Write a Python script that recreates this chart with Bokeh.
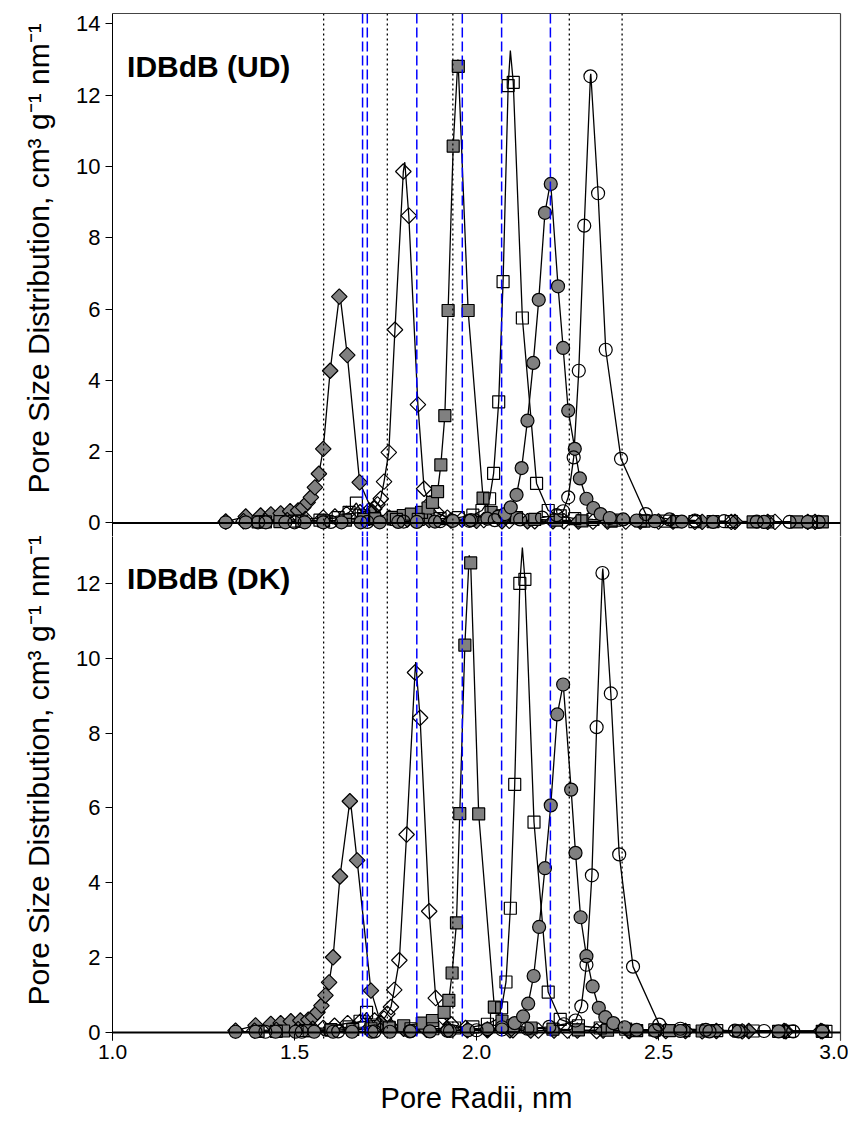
import math
from bokeh.plotting import figure
from bokeh.layouts import column
from bokeh.models import Range1d, LinearAxis, FixedTicker, Span, Label, Title, PrintfTickFormatter
from bokeh.embed import file_html
from bokeh.resources import INLINE

FONT = "Liberation Sans"

# ---------------- data ----------------
x_ticks = [1.0, 1.5, 2.0, 2.5, 3.0]
y_ticks_top = [0, 2, 4, 6, 8, 10, 12, 14]
y_ticks_bottom = [0, 2, 4, 6, 8, 10, 12]

dotted_x = [1.58, 1.755, 1.935, 2.255, 2.40]
dashed_x = [1.687, 1.700, 1.836, 1.961, 2.069, 2.203]

# ---- IDBdB (UD), top panel ----
ud_fdia_x = [1.311, 1.366, 1.407, 1.435, 1.462, 1.488, 1.510, 1.524, 1.536, 1.545, 1.556, 1.567, 1.579, 1.598, 1.623, 1.645, 1.679, 1.715, 1.760, 1.810, 1.870, 1.930, 2.000, 2.070, 2.140, 2.210, 2.280, 2.360, 2.450, 2.540, 2.620, 2.710, 2.800, 2.910]
ud_fdia_y = [0.04, 0.18, 0.21, 0.24, 0.27, 0.33, 0.35, 0.44, 0.58, 0.72, 1.00, 1.38, 2.08, 4.27, 6.35, 4.71, 1.14, 0.30, 0.15, 0.10, 0.08, 0.07, 0.06, 0.05, 0.05, 0.05, 0.04, 0.04, 0.04, 0.04, 0.03, 0.03, 0.03, 0.03]

ud_odia_x = [1.360, 1.420, 1.480, 1.530, 1.579, 1.611, 1.643, 1.680, 1.705, 1.719, 1.728, 1.737, 1.746, 1.759, 1.776, 1.799, 1.814, 1.839, 1.856, 1.872, 1.890, 1.920, 1.960, 2.020, 2.090, 2.160, 2.240, 2.320, 2.410, 2.500, 2.600, 2.700, 2.820, 2.930]
ud_odia_y = [0.05, 0.06, 0.08, 0.11, 0.15, 0.18, 0.25, 0.30, 0.35, 0.40, 0.52, 0.68, 1.16, 1.98, 5.42, 9.86, 8.62, 3.32, 0.96, 0.55, 0.30, 0.15, 0.10, 0.08, 0.06, 0.05, 0.05, 0.04, 0.04, 0.04, 0.03, 0.03, 0.03, 0.03]

ud_fsq_x = [1.400, 1.460, 1.520, 1.580, 1.640, 1.690, 1.720, 1.771, 1.799, 1.821, 1.849, 1.867, 1.879, 1.893, 1.902, 1.913, 1.922, 1.936, 1.950, 1.977, 2.018, 2.040, 2.070, 2.110, 2.160, 2.220, 2.290, 2.370, 2.460, 2.550, 2.650, 2.760, 2.880, 2.950]
ud_fsq_y = [0.03, 0.04, 0.05, 0.06, 0.08, 0.10, 0.12, 0.16, 0.21, 0.25, 0.30, 0.42, 0.58, 0.88, 1.63, 3.01, 5.96, 10.57, 12.81, 5.96, 0.70, 0.30, 0.20, 0.15, 0.10, 0.08, 0.06, 0.05, 0.05, 0.04, 0.04, 0.03, 0.03, 0.03]

ud_osq_x = [1.420, 1.500, 1.570, 1.620, 1.650, 1.670, 1.690, 1.720, 1.780, 1.840, 1.900, 1.950, 1.990, 2.015, 2.036, 2.047, 2.061, 2.073, 2.087, 2.101, 2.126, 2.165, 2.197, 2.230, 2.270, 2.320, 2.380, 2.450, 2.520, 2.600, 2.700, 2.800, 2.920]
ud_osq_y = [0.03, 0.05, 0.08, 0.15, 0.30, 0.56, 0.20, 0.12, 0.10, 0.10, 0.12, 0.15, 0.22, 0.35, 0.68, 1.39, 3.40, 6.77, 12.27, 12.36, 5.75, 1.11, 0.35, 0.20, 0.12, 0.10, 0.08, 0.06, 0.05, 0.04, 0.04, 0.03, 0.03]

ud_fcir_x = [1.311, 1.366, 1.421, 1.475, 1.528, 1.579, 1.629, 1.682, 1.734, 1.785, 1.836, 1.886, 1.935, 1.985, 2.030, 2.060, 2.078, 2.094, 2.110, 2.124, 2.140, 2.156, 2.171, 2.188, 2.204, 2.224, 2.238, 2.252, 2.270, 2.284, 2.302, 2.321, 2.341, 2.366, 2.403, 2.440, 2.490, 2.564, 2.650, 2.790, 2.910]
ud_fcir_y = [0.02, 0.02, 0.02, 0.02, 0.02, 0.02, 0.02, 0.02, 0.02, 0.03, 0.03, 0.04, 0.06, 0.08, 0.12, 0.18, 0.25, 0.44, 0.79, 1.54, 2.87, 4.49, 6.26, 8.70, 9.51, 6.64, 4.91, 3.15, 2.08, 1.25, 0.68, 0.42, 0.25, 0.14, 0.10, 0.07, 0.05, 0.04, 0.03, 0.03, 0.03]

ud_ocir_x = [1.400, 1.500, 1.600, 1.700, 1.800, 1.900, 1.980, 2.050, 2.120, 2.180, 2.220, 2.238, 2.252, 2.267, 2.281, 2.296, 2.313, 2.334, 2.355, 2.397, 2.465, 2.530, 2.600, 2.680, 2.770, 2.860, 2.940]
ud_ocir_y = [0.02, 0.02, 0.03, 0.03, 0.04, 0.05, 0.06, 0.08, 0.10, 0.15, 0.22, 0.33, 0.72, 1.84, 4.27, 8.34, 12.53, 9.25, 4.86, 1.80, 0.25, 0.10, 0.07, 0.05, 0.04, 0.03, 0.03]

# apex of each fitted curve (UD): fdia, odia, fsq, osq, fcir, ocir
ud_apex_x = [1.625, 1.803, 1.949, 2.093, 2.203, 2.314]
ud_apex_y = [6.40, 10.12, 13.00, 13.25, 9.55, 12.60]

# ---- IDBdB (DK), bottom panel ----
dk_fdia_x = [1.338, 1.393, 1.435, 1.462, 1.490, 1.516, 1.538, 1.551, 1.563, 1.574, 1.585, 1.595, 1.606, 1.625, 1.652, 1.672, 1.710, 1.737, 1.766, 1.800, 1.863, 1.920, 1.975, 2.030, 2.092, 2.149, 2.213, 2.277, 2.348, 2.417, 2.495, 2.574, 2.659, 2.748, 2.845, 2.946]
dk_fdia_y = [0.05, 0.19, 0.23, 0.25, 0.30, 0.32, 0.34, 0.41, 0.54, 0.72, 0.99, 1.34, 2.01, 4.17, 6.18, 4.60, 1.12, 0.25, 0.14, 0.10, 0.07, 0.07, 0.06, 0.06, 0.06, 0.05, 0.05, 0.05, 0.05, 0.05, 0.04, 0.04, 0.04, 0.04, 0.04, 0.04]

dk_odia_x = [1.390, 1.450, 1.510, 1.550, 1.579, 1.610, 1.646, 1.680, 1.720, 1.746, 1.755, 1.765, 1.774, 1.788, 1.808, 1.831, 1.845, 1.870, 1.888, 1.908, 1.930, 1.970, 2.030, 2.100, 2.170, 2.250, 2.330, 2.420, 2.520, 2.620, 2.730, 2.850, 2.950]
dk_odia_y = [0.05, 0.07, 0.09, 0.10, 0.12, 0.18, 0.25, 0.28, 0.32, 0.37, 0.50, 0.68, 1.14, 1.93, 5.29, 9.62, 8.41, 3.24, 0.92, 0.41, 0.22, 0.12, 0.08, 0.06, 0.05, 0.05, 0.04, 0.04, 0.04, 0.03, 0.03, 0.03, 0.03]

dk_fsq_x = [1.400, 1.470, 1.540, 1.600, 1.660, 1.710, 1.760, 1.800, 1.851, 1.879, 1.911, 1.924, 1.933, 1.945, 1.954, 1.968, 1.984, 2.006, 2.049, 2.070, 2.100, 2.150, 2.210, 2.280, 2.360, 2.440, 2.530, 2.620, 2.720, 2.830, 2.950]
dk_fsq_y = [0.03, 0.04, 0.05, 0.06, 0.08, 0.10, 0.14, 0.18, 0.25, 0.32, 0.54, 0.86, 1.59, 2.93, 5.85, 10.35, 12.55, 5.84, 0.68, 0.30, 0.18, 0.12, 0.09, 0.07, 0.06, 0.05, 0.05, 0.04, 0.04, 0.03, 0.03]

dk_osq_x = [1.450, 1.530, 1.600, 1.650, 1.680, 1.698, 1.720, 1.760, 1.820, 1.880, 1.940, 1.990, 2.030, 2.055, 2.069, 2.081, 2.093, 2.105, 2.119, 2.133, 2.158, 2.197, 2.230, 2.280, 2.340, 2.410, 2.490, 2.570, 2.660, 2.760, 2.860, 2.960]
dk_osq_y = [0.03, 0.05, 0.08, 0.15, 0.30, 0.54, 0.20, 0.12, 0.10, 0.10, 0.12, 0.15, 0.22, 0.35, 0.66, 1.35, 3.32, 6.63, 12.00, 12.11, 5.62, 1.08, 0.35, 0.18, 0.12, 0.09, 0.07, 0.05, 0.05, 0.04, 0.03, 0.03]

dk_fcir_x = [1.338, 1.393, 1.448, 1.503, 1.554, 1.606, 1.658, 1.712, 1.762, 1.817, 1.872, 1.927, 1.977, 2.030, 2.070, 2.105, 2.128, 2.142, 2.157, 2.172, 2.188, 2.204, 2.222, 2.238, 2.260, 2.272, 2.286, 2.302, 2.319, 2.336, 2.354, 2.376, 2.407, 2.440, 2.490, 2.560, 2.640, 2.720, 2.830, 2.950]
dk_fcir_y = [0.02, 0.02, 0.02, 0.02, 0.02, 0.02, 0.02, 0.02, 0.02, 0.03, 0.03, 0.04, 0.06, 0.09, 0.14, 0.25, 0.43, 0.77, 1.51, 2.82, 4.39, 6.07, 8.50, 9.30, 6.49, 4.80, 3.08, 2.04, 1.23, 0.66, 0.41, 0.25, 0.14, 0.07, 0.05, 0.04, 0.03, 0.03, 0.03, 0.03]

dk_ocir_x = [1.420, 1.520, 1.620, 1.720, 1.820, 1.920, 2.000, 2.070, 2.140, 2.200, 2.240, 2.272, 2.288, 2.302, 2.317, 2.330, 2.346, 2.369, 2.392, 2.430, 2.502, 2.560, 2.630, 2.710, 2.790, 2.870, 2.950]
dk_ocir_y = [0.02, 0.02, 0.03, 0.03, 0.04, 0.05, 0.06, 0.08, 0.10, 0.15, 0.22, 0.32, 0.70, 1.81, 4.20, 8.16, 12.28, 9.06, 4.76, 1.76, 0.21, 0.10, 0.07, 0.05, 0.04, 0.03, 0.03]

dk_apex_x = [1.653, 1.833, 1.980, 2.126, 2.238, 2.347]
dk_apex_y = [6.25, 9.90, 12.75, 12.96, 9.35, 12.40]

# ---------------- styling helpers ----------------
GRAY = "#808080"
styles = [("square", math.pi / 4, 11, GRAY),
          ("square", math.pi / 4, 11, None),
          ("square", 0, 12, GRAY),
          ("square", 0, 12, None),
          ("circle", 0, 13, GRAY),
          ("circle", 0, 13, None)]
YTITLE = "Pore Size Distribution, cm\u00b3 g\u207b\u00b9 nm\u207b\u00b9"


def curve(xs, ys, ax, ay):
    pts = sorted(list(zip(xs, ys)) + [(ax, ay)])
    return [q[0] for q in pts], [q[1] for q in pts]


def make_panel(yr, frame_h, top_border, yticks, series, apx, apy, label, label_y,
               title_offset, with_x_axis):
    p = figure(frame_width=728, frame_height=frame_h, title=None,
               x_range=Range1d(1.0, 3.0), y_range=Range1d(*yr),
               x_axis_location="below" if with_x_axis else None,
               output_backend="svg", toolbar_location=None,
               min_border_left=111, min_border_top=top_border,
               min_border_right=8, min_border_bottom=0)
    p.xgrid.visible = False
    p.ygrid.visible = False
    p.outline_line_color = None
    p.background_fill_color = "white"
    p.border_fill_color = "white"

    ya = p.yaxis[0]
    ya.ticker = FixedTicker(ticks=yticks)
    ya.axis_line_color = "black"
    ya.major_tick_out = 7
    ya.major_tick_in = 0
    ya.minor_tick_in = 0
    ya.minor_tick_out = 0
    ya.major_label_standoff = 5
    ya.major_label_text_font = FONT
    ya.major_label_text_font_size = "22px"
    ya.major_label_text_color = "black"

    p.add_layout(Title(text=YTITLE, align="left", offset=title_offset,
                       vertical_align="bottom", standoff=38, text_font=FONT,
                       text_font_size="30px", text_font_style="normal",
                       text_color="black"), "left")

    if with_x_axis:
        xa = p.xaxis[0]
        xa.ticker = FixedTicker(ticks=x_ticks)
        xa.formatter = PrintfTickFormatter(format="%.1f")
        xa.axis_line_color = None
        xa.major_tick_in = 7
        xa.major_tick_out = 0
        xa.minor_tick_in = 0
        xa.minor_tick_out = 0
        xa.major_tick_line_color = "black"
        xa.major_label_standoff = 4
        xa.major_label_text_font = FONT
        xa.major_label_text_font_size = "21px"
        xa.major_label_text_color = "black"
        xa.axis_label = "Pore Radii, nm"
        xa.axis_label_text_font = FONT
        xa.axis_label_text_font_size = "29px"
        xa.axis_label_text_font_style = "normal"
        xa.axis_label_text_color = "black"
        xa.axis_label_standoff = 20

    sides = ["right"] if with_x_axis else ["above", "right"]
    for side in sides:
        ax = LinearAxis(ticker=FixedTicker(ticks=[]), major_tick_in=0, major_tick_out=0,
                        minor_tick_in=0, minor_tick_out=0, major_label_text_font_size="0px",
                        major_label_standoff=0, axis_line_color="#444444", axis_line_width=1.2)
        p.add_layout(ax, side)

    for xv in dotted_x:
        p.add_layout(Span(location=xv, dimension="height", line_color="black",
                          line_width=1.3, line_dash="2 3"))
    for xv in dashed_x:
        p.add_layout(Span(location=xv, dimension="height", line_color="#0000ff",
                          line_width=1.5, line_dash="10 4"))
    p.add_layout(Span(location=0, dimension="width", line_color="black", line_width=2))

    for (xs, ys), axv, ayv in zip(series, apx, apy):
        cx, cy = curve(xs, ys, axv, ayv)
        p.line(cx, cy, line_color="black", line_width=1.3)
    for (xs, ys), (mk, ang, sz, fc) in zip(series, styles):
        p.scatter(xs, ys, marker=mk, angle=ang, size=sz, fill_color=fc,
                  line_color="black", line_width=1.2)

    p.add_layout(Label(x=1.04, y=label_y, text=label, text_font=FONT,
                       text_font_size="30px", text_font_style="bold",
                       text_color="black", text_baseline="alphabetic"))
    return p


ud_series = [(ud_fdia_x, ud_fdia_y), (ud_odia_x, ud_odia_y), (ud_fsq_x, ud_fsq_y),
             (ud_osq_x, ud_osq_y), (ud_fcir_x, ud_fcir_y), (ud_ocir_x, ud_ocir_y)]
dk_series = [(dk_fdia_x, dk_fdia_y), (dk_odia_x, dk_odia_y), (dk_fsq_x, dk_fsq_y),
             (dk_osq_x, dk_osq_y), (dk_fcir_x, dk_fcir_y), (dk_ocir_x, dk_ocir_y)]

# top frame: page y 13..536 (zero at 522.5); bottom frame: 536..1040 (zero at 1032)
top = make_panel((-0.379, 14.292), 523, 13, y_ticks_top, ud_series, ud_apex_x, ud_apex_y,
                 "IDBdB (UD)", 12.80, 43, False)
bottom = make_panel((-0.214, 13.255), 504, 0, y_ticks_bottom, dk_series, dk_apex_x, dk_apex_y,
                    "IDBdB (DK)", 12.12, 35, True)

layout = column(top, bottom, spacing=0)
open("out.html", "w").write(file_html(layout, INLINE))
